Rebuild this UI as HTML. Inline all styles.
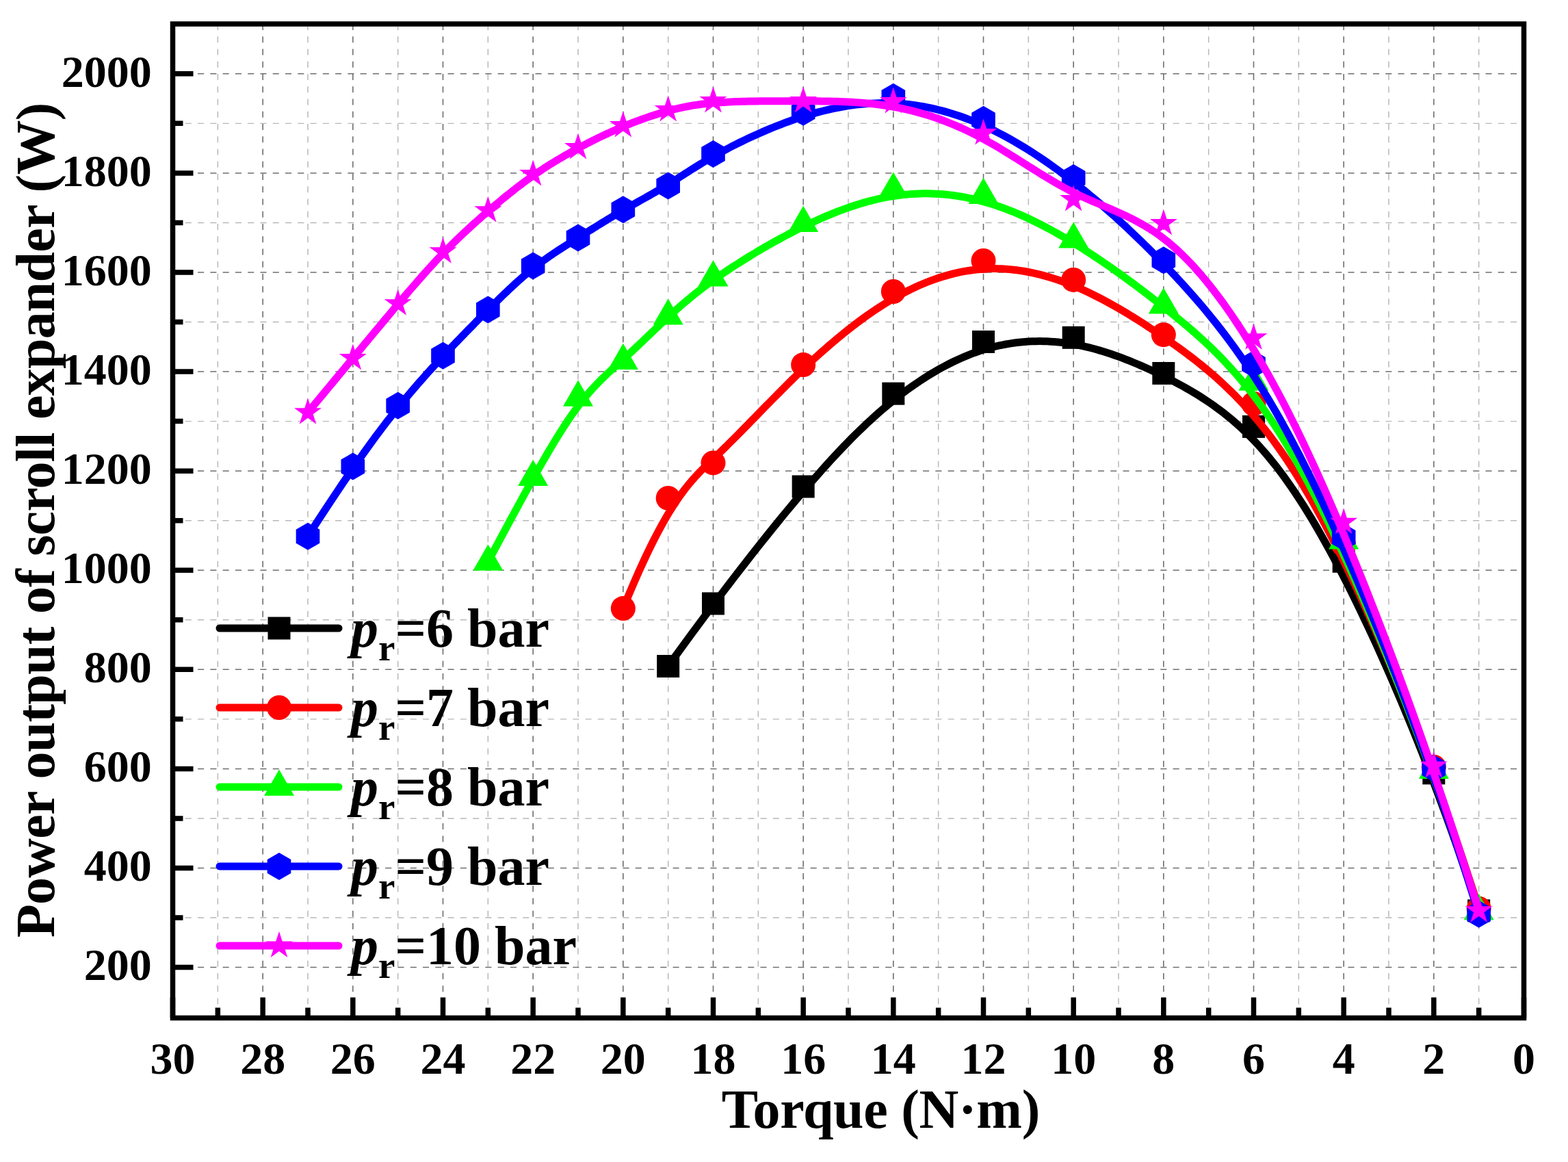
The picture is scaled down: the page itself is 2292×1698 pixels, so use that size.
<!DOCTYPE html>
<html><head><meta charset="utf-8"><title>Power output vs torque</title>
<style>html,body{margin:0;padding:0;background:#fff;}svg{display:block;}</style>
</head><body>
<svg width="2292" height="1698" viewBox="0 0 2292 1698">
<rect width="2292" height="1698" fill="#fff"/>
<path d="M2161.67 35.0V1487.5M2030 35.0V1487.5M1898.33 35.0V1487.5M1766.67 35.0V1487.5M1635 35.0V1487.5M1503.33 35.0V1487.5M1371.67 35.0V1487.5M1240 35.0V1487.5M1108.33 35.0V1487.5M976.67 35.0V1487.5M845 35.0V1487.5M713.33 35.0V1487.5M581.67 35.0V1487.5M450 35.0V1487.5M318.33 35.0V1487.5" stroke="#b8b8b8" stroke-width="1.5" stroke-dasharray="9.1 9.15" fill="none"/>
<path d="M252.5 1341.05H2227.5M252.5 1195.96H2227.5M252.5 1050.87H2227.5M252.5 905.78H2227.5M252.5 760.7H2227.5M252.5 615.61H2227.5M252.5 470.52H2227.5M252.5 325.43H2227.5M252.5 180.34H2227.5" stroke="#b8b8b8" stroke-width="1.4" stroke-dasharray="9.1 9.176" fill="none"/>
<path d="M2095.83 35.0V1487.5M1964.17 35.0V1487.5M1832.5 35.0V1487.5M1700.83 35.0V1487.5M1569.17 35.0V1487.5M1437.5 35.0V1487.5M1305.83 35.0V1487.5M1174.17 35.0V1487.5M1042.5 35.0V1487.5M910.83 35.0V1487.5M779.17 35.0V1487.5M647.5 35.0V1487.5M515.83 35.0V1487.5M384.17 35.0V1487.5" stroke="#6e6e6e" stroke-width="1.6" stroke-dasharray="9.1 9.15" fill="none"/>
<path d="M252.5 1413.59H2227.5M252.5 1268.5H2227.5M252.5 1123.42H2227.5M252.5 978.33H2227.5M252.5 833.24H2227.5M252.5 688.15H2227.5M252.5 543.06H2227.5M252.5 397.98H2227.5M252.5 252.89H2227.5M252.5 107.8H2227.5" stroke="#6e6e6e" stroke-width="1.5" stroke-dasharray="9.1 9.176" fill="none"/>
<path d="M976.67 973.5 L984.9 962.09 L993.12 950.76 L1001.33 939.5 L1009.53 928.32 L1017.71 917.22 L1025.87 906.22 L1034 895.32 L1042.09 884.52 L1050.15 873.84 L1058.16 863.27 L1066.13 852.83 L1074.05 842.51 L1081.9 832.34 L1089.7 822.3 L1097.43 812.42 L1105.08 802.68 L1112.66 793.11 L1120.16 783.71 L1127.58 774.47 L1134.9 765.42 L1142.13 756.55 L1149.26 747.87 L1156.28 739.39 L1163.19 731.12 L1170 723.05 L1176.69 715.18 L1183.27 707.52 L1189.76 700.05 L1196.15 692.78 L1202.45 685.69 L1208.67 678.79 L1214.8 672.06 L1220.86 665.51 L1226.85 659.13 L1232.77 652.92 L1238.63 646.87 L1244.43 640.97 L1250.18 635.23 L1255.88 629.63 L1261.54 624.18 L1267.16 618.87 L1272.75 613.69 L1278.3 608.64 L1283.84 603.72 L1289.35 598.92 L1294.85 594.24 L1300.35 589.68 L1305.83 585.22 L1311.32 580.86 L1316.81 576.61 L1322.29 572.47 L1327.78 568.43 L1333.26 564.5 L1338.75 560.68 L1344.24 556.97 L1349.72 553.36 L1355.21 549.87 L1360.69 546.48 L1366.18 543.21 L1371.67 540.05 L1377.15 537 L1382.64 534.07 L1388.13 531.24 L1393.61 528.54 L1399.1 525.94 L1404.58 523.47 L1410.07 521.11 L1415.56 518.87 L1421.04 516.74 L1426.53 514.74 L1432.01 512.85 L1437.5 511.08 L1442.99 509.44 L1448.47 507.91 L1453.96 506.5 L1459.44 505.22 L1464.93 504.04 L1470.42 502.99 L1475.9 502.05 L1481.39 501.23 L1486.88 500.52 L1492.36 499.92 L1497.85 499.44 L1503.33 499.06 L1508.82 498.8 L1514.31 498.65 L1519.79 498.61 L1525.28 498.68 L1530.76 498.85 L1536.25 499.14 L1541.74 499.53 L1547.22 500.02 L1552.71 500.62 L1558.19 501.32 L1563.68 502.13 L1569.17 503.03 L1574.65 504.04 L1580.14 505.15 L1585.62 506.35 L1591.11 507.65 L1596.6 509.04 L1602.08 510.52 L1607.57 512.09 L1613.06 513.74 L1618.54 515.48 L1624.03 517.29 L1629.51 519.18 L1635 521.15 L1640.49 523.19 L1645.97 525.3 L1651.46 527.48 L1656.94 529.73 L1662.43 532.04 L1667.92 534.41 L1673.4 536.84 L1678.89 539.32 L1684.38 541.86 L1689.86 544.45 L1695.35 547.1 L1700.83 549.78 L1706.32 552.52 L1711.81 555.3 L1717.29 558.15 L1722.78 561.05 L1728.26 564.03 L1733.75 567.09 L1739.24 570.24 L1744.72 573.47 L1750.21 576.8 L1755.69 580.24 L1761.18 583.79 L1766.67 587.46 L1772.15 591.26 L1777.64 595.19 L1783.12 599.26 L1788.61 603.47 L1794.1 607.83 L1799.58 612.36 L1805.07 617.05 L1810.56 621.91 L1816.04 626.96 L1821.53 632.19 L1827.01 637.61 L1832.5 643.23 L1837.99 649.06 L1843.48 655.11 L1848.98 661.39 L1854.5 667.9 L1860.03 674.66 L1865.59 681.69 L1871.18 688.98 L1876.8 696.56 L1882.45 704.43 L1888.15 712.6 L1893.9 721.09 L1899.7 729.9 L1905.56 739.05 L1911.48 748.54 L1917.47 758.39 L1923.53 768.6 L1929.66 779.2 L1935.88 790.18 L1942.18 801.57 L1948.57 813.36 L1955.06 825.58 L1961.65 838.22 L1968.34 851.31 L1975.14 864.86 L1982.05 878.86 L1989.08 893.34 L1996.2 908.27 L2003.43 923.68 L2010.76 939.55 L2018.17 955.88 L2025.67 972.69 L2033.25 989.97 L2040.91 1007.71 L2048.64 1025.93 L2056.43 1044.62 L2064.29 1063.78 L2072.2 1083.41 L2080.17 1103.52 L2088.18 1124.1 L2096.24 1145.15 L2104.33 1166.69 L2112.46 1188.7 L2120.62 1211.18 L2128.8 1234.15 L2137 1257.59 L2145.21 1281.51 L2153.44 1305.92 L2161.67 1330.8" stroke="#000000" stroke-width="11" fill="none" stroke-linejoin="round" stroke-linecap="round"/>
<rect x="960.17" y="957" width="33" height="33" fill="#000000"/>
<rect x="1026" y="865.5" width="33" height="33" fill="#000000"/>
<rect x="1157.67" y="694.5" width="33" height="33" fill="#000000"/>
<rect x="1289.33" y="558.7" width="33" height="33" fill="#000000"/>
<rect x="1421" y="483" width="33" height="33" fill="#000000"/>
<rect x="1552.67" y="476.8" width="33" height="33" fill="#000000"/>
<rect x="1684.33" y="529" width="33" height="33" fill="#000000"/>
<rect x="1816" y="606.9" width="33" height="33" fill="#000000"/>
<rect x="1947.67" y="803.8" width="33" height="33" fill="#000000"/>
<rect x="2079.33" y="1113.3" width="33" height="33" fill="#000000"/>
<rect x="2145.17" y="1314.3" width="33" height="33" fill="#000000"/>
<path d="M910.83 889.1 L918.89 869.64 L926.63 851.54 L934.05 834.71 L941.18 819.11 L948.04 804.66 L954.64 791.31 L960.99 778.98 L967.12 767.63 L973.03 757.17 L978.76 747.55 L984.31 738.71 L989.7 730.58 L994.94 723.1 L1000.06 716.2 L1005.07 709.82 L1009.99 703.9 L1014.83 698.38 L1019.61 693.18 L1024.35 688.26 L1029.06 683.53 L1033.77 678.95 L1038.48 674.44 L1043.21 669.94 L1047.99 665.39 L1052.81 660.74 L1057.7 655.98 L1062.63 651.12 L1067.62 646.17 L1072.65 641.14 L1077.73 636.03 L1082.85 630.84 L1088.01 625.6 L1093.21 620.29 L1098.45 614.94 L1103.72 609.55 L1109.02 604.13 L1114.35 598.68 L1119.7 593.21 L1125.08 587.73 L1130.48 582.25 L1135.9 576.77 L1141.34 571.3 L1146.79 565.85 L1152.25 560.42 L1157.72 555.03 L1163.2 549.68 L1168.68 544.38 L1174.17 539.13 L1179.65 533.95 L1185.14 528.83 L1190.62 523.77 L1196.11 518.79 L1201.6 513.87 L1207.08 509.03 L1212.57 504.26 L1218.06 499.57 L1223.54 494.96 L1229.03 490.42 L1234.51 485.97 L1240 481.6 L1245.49 477.31 L1250.97 473.11 L1256.46 469 L1261.94 464.99 L1267.43 461.06 L1272.92 457.23 L1278.4 453.49 L1283.89 449.86 L1289.37 446.32 L1294.86 442.89 L1300.35 439.56 L1305.83 436.33 L1311.32 433.22 L1316.81 430.21 L1322.29 427.31 L1327.78 424.52 L1333.26 421.84 L1338.75 419.27 L1344.24 416.82 L1349.72 414.48 L1355.21 412.25 L1360.69 410.14 L1366.18 408.14 L1371.67 406.26 L1377.15 404.5 L1382.64 402.86 L1388.13 401.33 L1393.61 399.93 L1399.1 398.64 L1404.58 397.48 L1410.07 396.43 L1415.56 395.52 L1421.04 394.72 L1426.53 394.05 L1432.01 393.5 L1437.5 393.08 L1442.99 392.79 L1448.47 392.62 L1453.96 392.58 L1459.44 392.66 L1464.93 392.86 L1470.42 393.18 L1475.9 393.61 L1481.39 394.17 L1486.88 394.83 L1492.36 395.62 L1497.85 396.51 L1503.33 397.51 L1508.82 398.63 L1514.31 399.84 L1519.79 401.17 L1525.28 402.6 L1530.76 404.13 L1536.25 405.77 L1541.74 407.5 L1547.22 409.33 L1552.71 411.26 L1558.19 413.29 L1563.68 415.41 L1569.17 417.62 L1574.65 419.92 L1580.14 422.31 L1585.62 424.78 L1591.11 427.34 L1596.6 429.98 L1602.08 432.71 L1607.57 435.5 L1613.06 438.38 L1618.54 441.32 L1624.03 444.34 L1629.51 447.42 L1635 450.57 L1640.49 453.78 L1645.97 457.05 L1651.46 460.38 L1656.94 463.77 L1662.43 467.21 L1667.92 470.7 L1673.4 474.24 L1678.89 477.83 L1684.38 481.47 L1689.86 485.15 L1695.35 488.86 L1700.83 492.62 L1706.32 496.41 L1711.81 500.24 L1717.29 504.12 L1722.78 508.06 L1728.26 512.05 L1733.75 516.12 L1739.24 520.25 L1744.72 524.46 L1750.21 528.76 L1755.69 533.15 L1761.18 537.63 L1766.67 542.22 L1772.15 546.92 L1777.64 551.73 L1783.12 556.66 L1788.61 561.72 L1794.1 566.92 L1799.58 572.25 L1805.07 577.73 L1810.56 583.36 L1816.04 589.15 L1821.53 595.11 L1827.01 601.23 L1832.5 607.53 L1837.99 614.02 L1843.48 620.7 L1848.98 627.59 L1854.5 634.7 L1860.03 642.04 L1865.59 649.63 L1871.18 657.48 L1876.8 665.6 L1882.45 674 L1888.15 682.7 L1893.9 691.71 L1899.7 701.05 L1905.56 710.72 L1911.48 720.73 L1917.47 731.11 L1923.53 741.86 L1929.66 753 L1935.88 764.54 L1942.18 776.48 L1948.57 788.86 L1955.06 801.66 L1961.65 814.92 L1968.34 828.64 L1975.14 842.84 L1982.05 857.52 L1989.08 872.69 L1996.2 888.35 L2003.43 904.49 L2010.76 921.11 L2018.17 938.22 L2025.67 955.81 L2033.25 973.88 L2040.91 992.43 L2048.64 1011.47 L2056.43 1030.97 L2064.29 1050.96 L2072.2 1071.42 L2080.17 1092.36 L2088.18 1113.78 L2096.24 1135.66 L2104.33 1158.02 L2112.46 1180.86 L2120.62 1204.16 L2128.8 1227.93 L2137 1252.17 L2145.21 1276.88 L2153.44 1302.06 L2161.67 1327.7" stroke="#ff0000" stroke-width="11" fill="none" stroke-linejoin="round" stroke-linecap="round"/>
<circle cx="910.83" cy="889.1" r="18.0" fill="#ff0000"/>
<circle cx="976.67" cy="727.9" r="18.0" fill="#ff0000"/>
<circle cx="1042.5" cy="676.4" r="18.0" fill="#ff0000"/>
<circle cx="1174.17" cy="533.1" r="18.0" fill="#ff0000"/>
<circle cx="1305.83" cy="426" r="18.0" fill="#ff0000"/>
<circle cx="1437.5" cy="380.9" r="18.0" fill="#ff0000"/>
<circle cx="1569.17" cy="408.9" r="18.0" fill="#ff0000"/>
<circle cx="1700.83" cy="489.2" r="18.0" fill="#ff0000"/>
<circle cx="1832.5" cy="590" r="18.0" fill="#ff0000"/>
<circle cx="1964.17" cy="796" r="18.0" fill="#ff0000"/>
<circle cx="2095.83" cy="1120.7" r="18.0" fill="#ff0000"/>
<circle cx="2161.67" cy="1327.7" r="18.0" fill="#ff0000"/>
<path d="M713.33 821 L721.39 805.86 L729.12 791.39 L736.53 777.57 L743.63 764.36 L750.44 751.77 L756.97 739.76 L763.22 728.31 L769.21 717.41 L774.96 707.04 L780.47 697.17 L785.75 687.79 L790.82 678.87 L795.7 670.4 L800.38 662.36 L804.89 654.73 L809.24 647.48 L813.43 640.61 L817.48 634.07 L821.41 627.87 L825.21 621.98 L828.92 616.37 L832.53 611.03 L836.05 605.94 L839.51 601.08 L842.91 596.43 L846.26 591.98 L849.55 587.73 L852.8 583.65 L855.99 579.74 L859.14 575.99 L862.25 572.4 L865.32 568.95 L868.35 565.63 L871.34 562.43 L874.3 559.35 L877.23 556.37 L880.13 553.48 L883.01 550.69 L885.86 547.96 L888.69 545.3 L891.5 542.7 L894.29 540.15 L897.07 537.63 L899.84 535.14 L902.59 532.67 L905.34 530.21 L908.09 527.74 L910.83 525.27 L913.58 522.77 L916.32 520.26 L919.06 517.73 L921.81 515.19 L924.55 512.63 L927.29 510.06 L930.03 507.48 L932.78 504.88 L935.52 502.28 L938.26 499.68 L941.01 497.07 L943.75 494.45 L946.49 491.84 L949.24 489.22 L951.98 486.6 L954.72 483.99 L957.47 481.38 L960.21 478.77 L962.95 476.18 L965.69 473.59 L968.44 471.01 L971.18 468.44 L973.92 465.89 L976.67 463.35 L979.41 460.83 L982.16 458.32 L984.92 455.82 L987.69 453.33 L990.48 450.85 L993.3 448.37 L996.14 445.89 L999.02 443.41 L1001.93 440.94 L1004.89 438.45 L1007.9 435.96 L1010.95 433.46 L1014.07 430.94 L1017.25 428.41 L1020.49 425.87 L1023.81 423.3 L1027.2 420.71 L1030.67 418.1 L1034.23 415.47 L1037.88 412.8 L1041.62 410.1 L1045.47 407.37 L1049.41 404.61 L1053.47 401.8 L1057.64 398.96 L1061.92 396.07 L1066.31 393.16 L1070.79 390.22 L1075.37 387.25 L1080.05 384.26 L1084.8 381.25 L1089.64 378.23 L1094.55 375.2 L1099.54 372.16 L1104.59 369.13 L1109.7 366.09 L1114.88 363.06 L1120.1 360.04 L1125.37 357.04 L1130.68 354.05 L1136.04 351.08 L1141.42 348.14 L1146.84 345.22 L1152.27 342.34 L1157.73 339.5 L1163.2 336.7 L1168.68 333.94 L1174.17 331.23 L1179.65 328.58 L1185.14 325.97 L1190.62 323.43 L1196.11 320.94 L1201.6 318.51 L1207.08 316.15 L1212.57 313.85 L1218.06 311.61 L1223.54 309.45 L1229.03 307.35 L1234.51 305.33 L1240 303.38 L1245.49 301.51 L1250.97 299.71 L1256.46 298 L1261.94 296.36 L1267.43 294.82 L1272.92 293.35 L1278.4 291.98 L1283.89 290.7 L1289.37 289.5 L1294.86 288.41 L1300.35 287.4 L1305.83 286.5 L1311.32 285.7 L1316.81 284.99 L1322.29 284.39 L1327.78 283.88 L1333.26 283.48 L1338.75 283.17 L1344.24 282.97 L1349.72 282.86 L1355.21 282.85 L1360.69 282.94 L1366.18 283.13 L1371.67 283.42 L1377.15 283.81 L1382.64 284.3 L1388.13 284.88 L1393.61 285.57 L1399.1 286.35 L1404.58 287.23 L1410.07 288.21 L1415.56 289.29 L1421.04 290.47 L1426.53 291.74 L1432.01 293.11 L1437.5 294.58 L1442.99 296.15 L1448.47 297.81 L1453.96 299.57 L1459.44 301.42 L1464.93 303.36 L1470.42 305.39 L1475.9 307.51 L1481.39 309.71 L1486.88 311.99 L1492.36 314.36 L1497.85 316.8 L1503.33 319.33 L1508.82 321.93 L1514.31 324.6 L1519.79 327.35 L1525.28 330.16 L1530.76 333.05 L1536.25 336 L1541.74 339.02 L1547.22 342.11 L1552.71 345.25 L1558.19 348.45 L1563.68 351.72 L1569.17 355.03 L1574.65 358.41 L1580.14 361.83 L1585.62 365.31 L1591.11 368.84 L1596.6 372.42 L1602.08 376.05 L1607.57 379.73 L1613.06 383.45 L1618.54 387.22 L1624.03 391.03 L1629.51 394.89 L1635 398.79 L1640.49 402.73 L1645.97 406.71 L1651.46 410.74 L1656.94 414.79 L1662.43 418.89 L1667.92 423.02 L1673.4 427.19 L1678.89 431.39 L1684.38 435.62 L1689.86 439.88 L1695.35 444.18 L1700.83 448.5 L1706.32 452.85 L1711.81 457.24 L1717.29 461.67 L1722.78 466.15 L1728.26 470.7 L1733.75 475.3 L1739.24 479.98 L1744.72 484.74 L1750.21 489.59 L1755.69 494.53 L1761.18 499.57 L1766.67 504.73 L1772.15 510.01 L1777.64 515.41 L1783.12 520.94 L1788.61 526.61 L1794.1 532.43 L1799.58 538.41 L1805.07 544.55 L1810.56 550.86 L1816.04 557.35 L1821.53 564.02 L1827.01 570.88 L1832.5 577.95 L1837.99 585.22 L1843.48 592.72 L1848.98 600.44 L1854.5 608.4 L1860.03 616.62 L1865.59 625.1 L1871.18 633.85 L1876.8 642.89 L1882.45 652.22 L1888.15 661.85 L1893.9 671.81 L1899.7 682.09 L1905.56 692.72 L1911.48 703.69 L1917.47 715.02 L1923.53 726.73 L1929.66 738.82 L1935.88 751.31 L1942.18 764.19 L1948.57 777.5 L1955.06 791.23 L1961.65 805.4 L1968.34 820.02 L1975.14 835.1 L1982.05 850.65 L1989.08 866.66 L1996.2 883.14 L2003.43 900.09 L2010.76 917.49 L2018.17 935.35 L2025.67 953.66 L2033.25 972.42 L2040.91 991.63 L2048.64 1011.28 L2056.43 1031.38 L2064.29 1051.91 L2072.2 1072.88 L2080.17 1094.29 L2088.18 1116.12 L2096.24 1138.38 L2104.33 1161.07 L2112.46 1184.17 L2120.62 1207.7 L2128.8 1231.64 L2137 1255.99 L2145.21 1280.76 L2153.44 1305.93 L2161.67 1331.5" stroke="#00ff00" stroke-width="11" fill="none" stroke-linejoin="round" stroke-linecap="round"/>
<polygon points="713.33,795.6 735.33,833.7 691.33,833.7" fill="#00ff00"/>
<polygon points="779.17,671.8 801.17,709.9 757.17,709.9" fill="#00ff00"/>
<polygon points="845,555.6 867,593.7 823,593.7" fill="#00ff00"/>
<polygon points="910.83,501.8 932.83,539.9 888.83,539.9" fill="#00ff00"/>
<polygon points="976.67,436.4 998.67,474.5 954.67,474.5" fill="#00ff00"/>
<polygon points="1042.5,380.3 1064.5,418.4 1020.5,418.4" fill="#00ff00"/>
<polygon points="1174.17,300.8 1196.17,338.9 1152.17,338.9" fill="#00ff00"/>
<polygon points="1305.83,251.5 1327.83,289.6 1283.83,289.6" fill="#00ff00"/>
<polygon points="1437.5,259.8 1459.5,297.9 1415.5,297.9" fill="#00ff00"/>
<polygon points="1569.17,324.4 1591.17,362.5 1547.17,362.5" fill="#00ff00"/>
<polygon points="1700.83,420.4 1722.83,458.5 1678.83,458.5" fill="#00ff00"/>
<polygon points="1832.5,532.6 1854.5,570.7 1810.5,570.7" fill="#00ff00"/>
<polygon points="1964.17,764.5 1986.17,802.6 1942.17,802.6" fill="#00ff00"/>
<polygon points="2095.83,1099.9 2117.83,1138 2073.83,1138" fill="#00ff00"/>
<polygon points="2161.67,1306.1 2183.67,1344.2 2139.67,1344.2" fill="#00ff00"/>
<path d="M450 783.7 L458.06 771.23 L465.79 759.35 L473.2 748.02 L480.3 737.23 L487.11 726.96 L493.63 717.19 L499.88 707.89 L505.88 699.05 L511.62 690.65 L517.13 682.66 L522.42 675.06 L527.49 667.84 L532.37 660.97 L537.05 654.43 L541.56 648.2 L545.91 642.27 L550.1 636.6 L554.15 631.18 L558.07 625.99 L561.88 621.01 L565.58 616.22 L569.19 611.59 L572.72 607.11 L576.18 602.76 L579.58 598.51 L582.93 594.36 L586.22 590.32 L589.46 586.36 L592.66 582.49 L595.81 578.71 L598.92 575.01 L601.99 571.38 L605.01 567.83 L608.01 564.35 L610.97 560.93 L613.9 557.58 L616.8 554.28 L619.67 551.03 L622.52 547.84 L625.35 544.69 L628.16 541.58 L630.96 538.51 L633.74 535.47 L636.5 532.46 L639.26 529.48 L642.01 526.52 L644.76 523.58 L647.5 520.65 L650.24 517.73 L652.99 514.82 L655.73 511.93 L658.47 509.04 L661.22 506.16 L663.96 503.28 L666.7 500.42 L669.44 497.57 L672.19 494.72 L674.93 491.89 L677.67 489.06 L680.42 486.24 L683.16 483.43 L685.9 480.62 L688.65 477.83 L691.39 475.04 L694.13 472.25 L696.87 469.48 L699.62 466.71 L702.36 463.95 L705.1 461.19 L707.85 458.45 L710.59 455.7 L713.33 452.97 L716.08 450.24 L718.82 447.51 L721.56 444.8 L724.31 442.1 L727.05 439.4 L729.79 436.72 L732.53 434.06 L735.28 431.41 L738.02 428.78 L740.76 426.16 L743.51 423.57 L746.25 421 L748.99 418.45 L751.74 415.92 L754.48 413.42 L757.22 410.95 L759.97 408.51 L762.71 406.09 L765.45 403.71 L768.19 401.36 L770.94 399.05 L773.68 396.77 L776.42 394.52 L779.17 392.32 L781.91 390.15 L784.65 388.02 L787.4 385.93 L790.14 383.88 L792.88 381.85 L795.62 379.86 L798.37 377.9 L801.11 375.96 L803.85 374.05 L806.6 372.17 L809.34 370.31 L812.08 368.47 L814.83 366.65 L817.57 364.85 L820.31 363.06 L823.06 361.29 L825.8 359.54 L828.54 357.79 L831.28 356.05 L834.03 354.32 L836.77 352.6 L839.51 350.88 L842.26 349.16 L845 347.45 L847.74 345.74 L850.49 344.02 L853.23 342.31 L855.97 340.59 L858.72 338.88 L861.46 337.17 L864.2 335.46 L866.94 333.76 L869.69 332.06 L872.43 330.36 L875.17 328.67 L877.92 326.98 L880.66 325.3 L883.4 323.62 L886.15 321.95 L888.89 320.29 L891.63 318.63 L894.38 316.98 L897.12 315.34 L899.86 313.71 L902.6 312.09 L905.35 310.48 L908.09 308.87 L910.83 307.28 L913.58 305.7 L916.32 304.13 L919.06 302.57 L921.81 301.02 L924.55 299.47 L927.29 297.93 L930.03 296.39 L932.78 294.85 L935.52 293.31 L938.26 291.78 L941.01 290.24 L943.75 288.7 L946.49 287.15 L949.24 285.6 L951.98 284.04 L954.72 282.47 L957.47 280.9 L960.21 279.31 L962.95 277.71 L965.69 276.1 L968.44 274.47 L971.18 272.82 L973.92 271.16 L976.67 269.48 L979.41 267.78 L982.16 266.06 L984.92 264.32 L987.69 262.56 L990.48 260.78 L993.3 258.98 L996.14 257.15 L999.02 255.31 L1001.93 253.44 L1004.89 251.55 L1007.9 249.63 L1010.95 247.7 L1014.07 245.74 L1017.25 243.75 L1020.49 241.75 L1023.81 239.72 L1027.2 237.66 L1030.67 235.58 L1034.23 233.48 L1037.88 231.35 L1041.62 229.2 L1045.47 227.02 L1049.41 224.81 L1053.47 222.58 L1057.64 220.33 L1061.92 218.05 L1066.31 215.75 L1070.79 213.44 L1075.37 211.12 L1080.05 208.79 L1084.8 206.46 L1089.64 204.13 L1094.55 201.81 L1099.54 199.49 L1104.59 197.19 L1109.7 194.91 L1114.88 192.64 L1120.1 190.4 L1125.37 188.2 L1130.68 186.02 L1136.04 183.88 L1141.42 181.78 L1146.84 179.73 L1152.27 177.72 L1157.73 175.77 L1163.2 173.87 L1168.68 172.04 L1174.17 170.27 L1179.65 168.56 L1185.14 166.93 L1190.62 165.37 L1196.11 163.88 L1201.6 162.46 L1207.08 161.11 L1212.57 159.84 L1218.06 158.65 L1223.54 157.54 L1229.03 156.5 L1234.51 155.54 L1240 154.67 L1245.49 153.88 L1250.97 153.16 L1256.46 152.54 L1261.94 152 L1267.43 151.54 L1272.92 151.18 L1278.4 150.9 L1283.89 150.71 L1289.37 150.61 L1294.86 150.61 L1300.35 150.7 L1305.83 150.88 L1311.32 151.16 L1316.81 151.54 L1322.29 152.01 L1327.78 152.57 L1333.26 153.23 L1338.75 153.98 L1344.24 154.83 L1349.72 155.78 L1355.21 156.81 L1360.69 157.94 L1366.18 159.16 L1371.67 160.48 L1377.15 161.89 L1382.64 163.39 L1388.13 164.99 L1393.61 166.67 L1399.1 168.45 L1404.58 170.32 L1410.07 172.29 L1415.56 174.34 L1421.04 176.49 L1426.53 178.72 L1432.01 181.05 L1437.5 183.47 L1442.99 185.97 L1448.47 188.57 L1453.96 191.25 L1459.44 194.03 L1464.93 196.88 L1470.42 199.82 L1475.9 202.85 L1481.39 205.95 L1486.88 209.14 L1492.36 212.4 L1497.85 215.75 L1503.33 219.17 L1508.82 222.67 L1514.31 226.24 L1519.79 229.88 L1525.28 233.6 L1530.76 237.39 L1536.25 241.24 L1541.74 245.17 L1547.22 249.16 L1552.71 253.22 L1558.19 257.35 L1563.68 261.53 L1569.17 265.78 L1574.65 270.1 L1580.14 274.47 L1585.62 278.9 L1591.11 283.4 L1596.6 287.95 L1602.08 292.56 L1607.57 297.24 L1613.06 301.97 L1618.54 306.76 L1624.03 311.61 L1629.51 316.52 L1635 321.49 L1640.49 326.51 L1645.97 331.59 L1651.46 336.73 L1656.94 341.93 L1662.43 347.18 L1667.92 352.49 L1673.4 357.86 L1678.89 363.28 L1684.38 368.76 L1689.86 374.29 L1695.35 379.88 L1700.83 385.52 L1706.32 391.21 L1711.81 396.97 L1717.29 402.79 L1722.78 408.68 L1728.26 414.65 L1733.75 420.69 L1739.24 426.82 L1744.72 433.04 L1750.21 439.35 L1755.69 445.77 L1761.18 452.28 L1766.67 458.91 L1772.15 465.66 L1777.64 472.52 L1783.12 479.51 L1788.61 486.63 L1794.1 493.88 L1799.58 501.28 L1805.07 508.82 L1810.56 516.51 L1816.04 524.36 L1821.53 532.37 L1827.01 540.54 L1832.5 548.88 L1837.99 557.4 L1843.48 566.11 L1848.98 575.02 L1854.5 584.13 L1860.03 593.47 L1865.59 603.03 L1871.18 612.84 L1876.8 622.9 L1882.45 633.23 L1888.15 643.83 L1893.9 654.72 L1899.7 665.9 L1905.56 677.4 L1911.48 689.21 L1917.47 701.35 L1923.53 713.84 L1929.66 726.67 L1935.88 739.87 L1942.18 753.45 L1948.57 767.41 L1955.06 781.77 L1961.65 796.53 L1968.34 811.72 L1975.14 827.33 L1982.05 843.39 L1989.08 859.88 L1996.2 876.82 L2003.43 894.2 L2010.76 912.02 L2018.17 930.29 L2025.67 949 L2033.25 968.16 L2040.91 987.76 L2048.64 1007.81 L2056.43 1028.31 L2064.29 1049.25 L2072.2 1070.65 L2080.17 1092.49 L2088.18 1114.78 L2096.24 1137.52 L2104.33 1160.71 L2112.46 1184.35 L2120.62 1208.44 L2128.8 1232.99 L2137 1257.98 L2145.21 1283.43 L2153.44 1309.34 L2161.67 1335.7" stroke="#0000ff" stroke-width="11" fill="none" stroke-linejoin="round" stroke-linecap="round"/>
<polygon points="450,763.7 467.32,773.7 467.32,793.7 450,803.7 432.68,793.7 432.68,773.7" fill="#0000ff"/>
<polygon points="515.83,661.6 533.15,671.6 533.15,691.6 515.83,701.6 498.51,691.6 498.51,671.6" fill="#0000ff"/>
<polygon points="581.67,572.7 598.99,582.7 598.99,602.7 581.67,612.7 564.35,602.7 564.35,582.7" fill="#0000ff"/>
<polygon points="647.5,499.7 664.82,509.7 664.82,529.7 647.5,539.7 630.18,529.7 630.18,509.7" fill="#0000ff"/>
<polygon points="713.33,432.4 730.65,442.4 730.65,462.4 713.33,472.4 696.01,462.4 696.01,442.4" fill="#0000ff"/>
<polygon points="779.17,368.5 796.49,378.5 796.49,398.5 779.17,408.5 761.85,398.5 761.85,378.5" fill="#0000ff"/>
<polygon points="845,327.5 862.32,337.5 862.32,357.5 845,367.5 827.68,357.5 827.68,337.5" fill="#0000ff"/>
<polygon points="910.83,286.2 928.15,296.2 928.15,316.2 910.83,326.2 893.51,316.2 893.51,296.2" fill="#0000ff"/>
<polygon points="976.67,251.4 993.99,261.4 993.99,281.4 976.67,291.4 959.35,281.4 959.35,261.4" fill="#0000ff"/>
<polygon points="1042.5,205.1 1059.82,215.1 1059.82,235.1 1042.5,245.1 1025.18,235.1 1025.18,215.1" fill="#0000ff"/>
<polygon points="1174.17,143.7 1191.49,153.7 1191.49,173.7 1174.17,183.7 1156.85,173.7 1156.85,153.7" fill="#0000ff"/>
<polygon points="1305.83,121.7 1323.15,131.7 1323.15,151.7 1305.83,161.7 1288.51,151.7 1288.51,131.7" fill="#0000ff"/>
<polygon points="1437.5,154.8 1454.82,164.8 1454.82,184.8 1437.5,194.8 1420.18,184.8 1420.18,164.8" fill="#0000ff"/>
<polygon points="1569.17,239.9 1586.49,249.9 1586.49,269.9 1569.17,279.9 1551.85,269.9 1551.85,249.9" fill="#0000ff"/>
<polygon points="1700.83,360.3 1718.15,370.3 1718.15,390.3 1700.83,400.3 1683.51,390.3 1683.51,370.3" fill="#0000ff"/>
<polygon points="1832.5,512 1849.82,522 1849.82,542 1832.5,552 1815.18,542 1815.18,522" fill="#0000ff"/>
<polygon points="1964.17,765 1981.49,775 1981.49,795 1964.17,805 1946.85,795 1946.85,775" fill="#0000ff"/>
<polygon points="2095.83,1103 2113.15,1113 2113.15,1133 2095.83,1143 2078.51,1133 2078.51,1113" fill="#0000ff"/>
<polygon points="2161.67,1315.7 2178.99,1325.7 2178.99,1345.7 2161.67,1355.7 2144.35,1345.7 2144.35,1325.7" fill="#0000ff"/>
<path d="M450 602.8 L458.06 593.1 L465.79 583.8 L473.2 574.88 L480.3 566.33 L487.11 558.13 L493.63 550.27 L499.88 542.74 L505.88 535.51 L511.62 528.59 L517.13 521.95 L522.42 515.58 L527.49 509.47 L532.37 503.6 L537.05 497.96 L541.56 492.54 L545.91 487.31 L550.1 482.28 L554.15 477.41 L558.07 472.71 L561.88 468.15 L565.58 463.72 L569.19 459.41 L572.72 455.2 L576.18 451.08 L579.58 447.04 L582.93 443.08 L586.22 439.18 L589.46 435.36 L592.66 431.6 L595.81 427.91 L598.92 424.29 L601.99 420.72 L605.01 417.22 L608.01 413.77 L610.97 410.38 L613.9 407.04 L616.8 403.76 L619.67 400.52 L622.52 397.33 L625.35 394.19 L628.16 391.09 L630.96 388.03 L633.74 385.01 L636.5 382.03 L639.26 379.09 L642.01 376.18 L644.76 373.3 L647.5 370.45 L650.24 367.63 L652.99 364.83 L655.73 362.07 L658.47 359.32 L661.22 356.6 L663.96 353.91 L666.7 351.24 L669.44 348.59 L672.19 345.97 L674.93 343.37 L677.67 340.78 L680.42 338.22 L683.16 335.68 L685.9 333.16 L688.65 330.65 L691.39 328.17 L694.13 325.7 L696.87 323.24 L699.62 320.81 L702.36 318.38 L705.1 315.98 L707.85 313.58 L710.59 311.2 L713.33 308.83 L716.08 306.48 L718.82 304.13 L721.56 301.8 L724.31 299.48 L727.05 297.18 L729.79 294.89 L732.53 292.62 L735.28 290.36 L738.02 288.12 L740.76 285.89 L743.51 283.68 L746.25 281.49 L748.99 279.32 L751.74 277.17 L754.48 275.03 L757.22 272.92 L759.97 270.83 L762.71 268.76 L765.45 266.71 L768.19 264.68 L770.94 262.67 L773.68 260.69 L776.42 258.73 L779.17 256.8 L781.91 254.89 L784.65 253.01 L787.4 251.15 L790.14 249.31 L792.88 247.5 L795.62 245.71 L798.37 243.94 L801.11 242.19 L803.85 240.46 L806.6 238.75 L809.34 237.06 L812.08 235.39 L814.83 233.74 L817.57 232.11 L820.31 230.49 L823.06 228.9 L825.8 227.31 L828.54 225.75 L831.28 224.2 L834.03 222.66 L836.77 221.14 L839.51 219.63 L842.26 218.13 L845 216.65 L847.74 215.18 L850.49 213.72 L853.23 212.27 L855.97 210.84 L858.72 209.42 L861.46 208.01 L864.2 206.61 L866.94 205.23 L869.69 203.86 L872.43 202.5 L875.17 201.16 L877.92 199.83 L880.66 198.51 L883.4 197.21 L886.15 195.92 L888.89 194.65 L891.63 193.39 L894.38 192.14 L897.12 190.91 L899.86 189.7 L902.6 188.5 L905.35 187.31 L908.09 186.14 L910.83 184.98 L913.58 183.84 L916.32 182.72 L919.06 181.61 L921.81 180.52 L924.55 179.44 L927.29 178.38 L930.03 177.33 L932.78 176.3 L935.52 175.29 L938.26 174.29 L941.01 173.31 L943.75 172.35 L946.49 171.4 L949.24 170.47 L951.98 169.56 L954.72 168.66 L957.47 167.78 L960.21 166.92 L962.95 166.07 L965.69 165.24 L968.44 164.43 L971.18 163.64 L973.92 162.86 L976.67 162.1 L979.41 161.36 L982.16 160.64 L984.92 159.93 L987.69 159.24 L990.48 158.58 L993.3 157.93 L996.14 157.3 L999.02 156.68 L1001.93 156.09 L1004.89 155.52 L1007.9 154.97 L1010.95 154.43 L1014.07 153.92 L1017.25 153.43 L1020.49 152.96 L1023.81 152.5 L1027.2 152.07 L1030.67 151.67 L1034.23 151.28 L1037.88 150.91 L1041.62 150.57 L1045.47 150.24 L1049.41 149.94 L1053.47 149.67 L1057.64 149.41 L1061.92 149.18 L1066.31 148.96 L1070.79 148.77 L1075.37 148.6 L1080.05 148.44 L1084.8 148.3 L1089.64 148.18 L1094.55 148.07 L1099.54 147.98 L1104.59 147.9 L1109.7 147.84 L1114.88 147.78 L1120.1 147.74 L1125.37 147.71 L1130.68 147.69 L1136.04 147.67 L1141.42 147.67 L1146.84 147.66 L1152.27 147.67 L1157.73 147.68 L1163.2 147.7 L1168.68 147.71 L1174.17 147.73 L1179.65 147.76 L1185.14 147.78 L1190.62 147.82 L1196.11 147.86 L1201.6 147.92 L1207.08 148 L1212.57 148.1 L1218.06 148.22 L1223.54 148.37 L1229.03 148.55 L1234.51 148.76 L1240 149.01 L1245.49 149.3 L1250.97 149.63 L1256.46 150.01 L1261.94 150.44 L1267.43 150.92 L1272.92 151.46 L1278.4 152.05 L1283.89 152.71 L1289.37 153.43 L1294.86 154.23 L1300.35 155.09 L1305.83 156.03 L1311.32 157.05 L1316.81 158.15 L1322.29 159.33 L1327.78 160.58 L1333.26 161.92 L1338.75 163.34 L1344.24 164.83 L1349.72 166.41 L1355.21 168.07 L1360.69 169.82 L1366.18 171.64 L1371.67 173.55 L1377.15 175.54 L1382.64 177.62 L1388.13 179.78 L1393.61 182.02 L1399.1 184.35 L1404.58 186.76 L1410.07 189.26 L1415.56 191.85 L1421.04 194.52 L1426.53 197.28 L1432.01 200.13 L1437.5 203.07 L1442.99 206.09 L1448.47 209.19 L1453.96 212.36 L1459.44 215.6 L1464.93 218.89 L1470.42 222.24 L1475.9 225.62 L1481.39 229.03 L1486.88 232.46 L1492.36 235.91 L1497.85 239.36 L1503.33 242.82 L1508.82 246.26 L1514.31 249.69 L1519.79 253.09 L1525.28 256.45 L1530.76 259.78 L1536.25 263.05 L1541.74 266.26 L1547.22 269.41 L1552.71 272.48 L1558.19 275.47 L1563.68 278.37 L1569.17 281.17 L1574.65 283.86 L1580.14 286.46 L1585.62 288.98 L1591.11 291.44 L1596.6 293.84 L1602.08 296.21 L1607.57 298.55 L1613.06 300.89 L1618.54 303.23 L1624.03 305.59 L1629.51 307.98 L1635 310.42 L1640.49 312.92 L1645.97 315.49 L1651.46 318.16 L1656.94 320.93 L1662.43 323.81 L1667.92 326.83 L1673.4 329.99 L1678.89 333.32 L1684.38 336.81 L1689.86 340.5 L1695.35 344.38 L1700.83 348.48 L1706.32 352.81 L1711.81 357.37 L1717.29 362.15 L1722.78 367.16 L1728.26 372.39 L1733.75 377.83 L1739.24 383.5 L1744.72 389.37 L1750.21 395.46 L1755.69 401.76 L1761.18 408.27 L1766.67 414.99 L1772.15 421.91 L1777.64 429.03 L1783.12 436.34 L1788.61 443.86 L1794.1 451.57 L1799.58 459.47 L1805.07 467.57 L1810.56 475.85 L1816.04 484.32 L1821.53 492.97 L1827.01 501.8 L1832.5 510.82 L1837.99 520.01 L1843.48 529.39 L1848.98 538.97 L1854.5 548.77 L1860.03 558.79 L1865.59 569.04 L1871.18 579.55 L1876.8 590.31 L1882.45 601.34 L1888.15 612.66 L1893.9 624.27 L1899.7 636.18 L1905.56 648.42 L1911.48 660.98 L1917.47 673.89 L1923.53 687.15 L1929.66 700.78 L1935.88 714.78 L1942.18 729.17 L1948.57 743.96 L1955.06 759.16 L1961.65 774.79 L1968.34 790.85 L1975.14 807.36 L1982.05 824.32 L1989.08 841.74 L1996.2 859.61 L2003.43 877.93 L2010.76 896.68 L2018.17 915.88 L2025.67 935.5 L2033.25 955.55 L2040.91 976.02 L2048.64 996.92 L2056.43 1018.22 L2064.29 1039.94 L2072.2 1062.06 L2080.17 1084.58 L2088.18 1107.49 L2096.24 1130.8 L2104.33 1154.5 L2112.46 1178.57 L2120.62 1203.03 L2128.8 1227.85 L2137 1253.05 L2145.21 1278.61 L2153.44 1304.53 L2161.67 1330.8" stroke="#ff00ff" stroke-width="11" fill="none" stroke-linejoin="round" stroke-linecap="round"/>
<polygon points="450,581.8 454.72,596.31 469.97,596.31 457.63,605.28 462.34,619.79 450,610.82 437.66,619.79 442.37,605.28 430.03,596.31 445.28,596.31" fill="#ff00ff"/>
<polygon points="515.83,502.6 520.55,517.11 535.81,517.11 523.46,526.08 528.18,540.59 515.83,531.62 503.49,540.59 508.2,526.08 495.86,517.11 511.12,517.11" fill="#ff00ff"/>
<polygon points="581.67,422.8 586.38,437.31 601.64,437.31 589.3,446.28 594.01,460.79 581.67,451.82 569.32,460.79 574.04,446.28 561.69,437.31 576.95,437.31" fill="#ff00ff"/>
<polygon points="647.5,346.8 652.22,361.31 667.47,361.31 655.13,370.28 659.84,384.79 647.5,375.82 635.16,384.79 639.87,370.28 627.53,361.31 642.78,361.31" fill="#ff00ff"/>
<polygon points="713.33,286.7 718.05,301.21 733.31,301.21 720.96,310.18 725.68,324.69 713.33,315.72 700.99,324.69 705.7,310.18 693.36,301.21 708.62,301.21" fill="#ff00ff"/>
<polygon points="779.17,233.4 783.88,247.91 799.14,247.91 786.8,256.88 791.51,271.39 779.17,262.42 766.82,271.39 771.54,256.88 759.19,247.91 774.45,247.91" fill="#ff00ff"/>
<polygon points="845,194.5 849.72,209.01 864.97,209.01 852.63,217.98 857.34,232.49 845,223.52 832.66,232.49 837.37,217.98 825.03,209.01 840.28,209.01" fill="#ff00ff"/>
<polygon points="910.83,162.5 915.55,177.01 930.81,177.01 918.46,185.98 923.18,200.49 910.83,191.52 898.49,200.49 903.2,185.98 890.86,177.01 906.12,177.01" fill="#ff00ff"/>
<polygon points="976.67,139.4 981.38,153.91 996.64,153.91 984.3,162.88 989.01,177.39 976.67,168.42 964.32,177.39 969.04,162.88 956.69,153.91 971.95,153.91" fill="#ff00ff"/>
<polygon points="1042.5,126.5 1047.22,141.01 1062.47,141.01 1050.13,149.98 1054.84,164.49 1042.5,155.52 1030.16,164.49 1034.87,149.98 1022.53,141.01 1037.78,141.01" fill="#ff00ff"/>
<polygon points="1174.17,126.6 1178.88,141.11 1194.14,141.11 1181.8,150.08 1186.51,164.59 1174.17,155.62 1161.82,164.59 1166.54,150.08 1154.19,141.11 1169.45,141.11" fill="#ff00ff"/>
<polygon points="1305.83,127.5 1310.55,142.01 1325.81,142.01 1313.46,150.98 1318.18,165.49 1305.83,156.52 1293.49,165.49 1298.2,150.98 1285.86,142.01 1301.12,142.01" fill="#ff00ff"/>
<polygon points="1437.5,173.6 1442.22,188.11 1457.47,188.11 1445.13,197.08 1449.84,211.59 1437.5,202.62 1425.16,211.59 1429.87,197.08 1417.53,188.11 1432.78,188.11" fill="#ff00ff"/>
<polygon points="1569.17,270.5 1573.88,285.01 1589.14,285.01 1576.8,293.98 1581.51,308.49 1569.17,299.52 1556.82,308.49 1561.54,293.98 1549.19,285.01 1564.45,285.01" fill="#ff00ff"/>
<polygon points="1700.83,305.4 1705.55,319.91 1720.81,319.91 1708.46,328.88 1713.18,343.39 1700.83,334.42 1688.49,343.39 1693.2,328.88 1680.86,319.91 1696.12,319.91" fill="#ff00ff"/>
<polygon points="1832.5,472.8 1837.22,487.31 1852.47,487.31 1840.13,496.28 1844.84,510.79 1832.5,501.82 1820.16,510.79 1824.87,496.28 1812.53,487.31 1827.78,487.31" fill="#ff00ff"/>
<polygon points="1964.17,742.3 1968.88,756.81 1984.14,756.81 1971.8,765.78 1976.51,780.29 1964.17,771.32 1951.82,780.29 1956.54,765.78 1944.19,756.81 1959.45,756.81" fill="#ff00ff"/>
<polygon points="2095.83,1098.2 2100.55,1112.71 2115.81,1112.71 2103.46,1121.68 2108.18,1136.19 2095.83,1127.22 2083.49,1136.19 2088.2,1121.68 2075.86,1112.71 2091.12,1112.71" fill="#ff00ff"/>
<polygon points="2161.67,1309.8 2166.38,1324.31 2181.64,1324.31 2169.3,1333.28 2174.01,1347.79 2161.67,1338.82 2149.32,1347.79 2154.04,1333.28 2141.69,1324.31 2156.95,1324.31" fill="#ff00ff"/>
<path d="M321 918H495" stroke="#000000" stroke-width="11" stroke-linecap="round"/>
<rect x="391.5" y="901.5" width="33" height="33" fill="#000000"/>
<text x="513" y="945" font-family="Liberation Serif, serif" font-weight="bold" font-size="80"><tspan font-style="italic">p</tspan><tspan font-size="55" dx="0" dy="20">r</tspan><tspan dy="-20">=6 bar</tspan></text>
<path d="M321 1034H495" stroke="#ff0000" stroke-width="11" stroke-linecap="round"/>
<circle cx="408" cy="1034" r="18.0" fill="#ff0000"/>
<text x="513" y="1061" font-family="Liberation Serif, serif" font-weight="bold" font-size="80"><tspan font-style="italic">p</tspan><tspan font-size="55" dx="0" dy="20">r</tspan><tspan dy="-20">=7 bar</tspan></text>
<path d="M321 1150H495" stroke="#00ff00" stroke-width="11" stroke-linecap="round"/>
<polygon points="408,1124.6 430,1162.7 386,1162.7" fill="#00ff00"/>
<text x="513" y="1177" font-family="Liberation Serif, serif" font-weight="bold" font-size="80"><tspan font-style="italic">p</tspan><tspan font-size="55" dx="0" dy="20">r</tspan><tspan dy="-20">=8 bar</tspan></text>
<path d="M321 1266H495" stroke="#0000ff" stroke-width="11" stroke-linecap="round"/>
<polygon points="408,1246 425.32,1256 425.32,1276 408,1286 390.68,1276 390.68,1256" fill="#0000ff"/>
<text x="513" y="1293" font-family="Liberation Serif, serif" font-weight="bold" font-size="80"><tspan font-style="italic">p</tspan><tspan font-size="55" dx="0" dy="20">r</tspan><tspan dy="-20">=9 bar</tspan></text>
<path d="M321 1382H495" stroke="#ff00ff" stroke-width="11" stroke-linecap="round"/>
<polygon points="408,1361 412.72,1375.51 427.97,1375.51 415.63,1384.48 420.34,1398.99 408,1390.02 395.66,1398.99 400.37,1384.48 388.03,1375.51 403.28,1375.51" fill="#ff00ff"/>
<text x="513" y="1409" font-family="Liberation Serif, serif" font-weight="bold" font-size="80"><tspan font-style="italic">p</tspan><tspan font-size="55" dx="0" dy="20">r</tspan><tspan dy="-20">=10 bar</tspan></text>
<rect x="252.5" y="35.0" width="1975.0" height="1452.5" fill="none" stroke="#000" stroke-width="7.5"/>
<path d="M2227.5 1487.5V1457.5M2161.67 1487.5V1472.5M2095.83 1487.5V1457.5M2030 1487.5V1472.5M1964.17 1487.5V1457.5M1898.33 1487.5V1472.5M1832.5 1487.5V1457.5M1766.67 1487.5V1472.5M1700.83 1487.5V1457.5M1635 1487.5V1472.5M1569.17 1487.5V1457.5M1503.33 1487.5V1472.5M1437.5 1487.5V1457.5M1371.67 1487.5V1472.5M1305.83 1487.5V1457.5M1240 1487.5V1472.5M1174.17 1487.5V1457.5M1108.33 1487.5V1472.5M1042.5 1487.5V1457.5M976.67 1487.5V1472.5M910.83 1487.5V1457.5M845 1487.5V1472.5M779.17 1487.5V1457.5M713.33 1487.5V1472.5M647.5 1487.5V1457.5M581.67 1487.5V1472.5M515.83 1487.5V1457.5M450 1487.5V1472.5M384.17 1487.5V1457.5M318.33 1487.5V1472.5M252.5 1487.5V1457.5M252.5 1413.59H282.5M252.5 1341.05H267.5M252.5 1268.5H282.5M252.5 1195.96H267.5M252.5 1123.42H282.5M252.5 1050.87H267.5M252.5 978.33H282.5M252.5 905.78H267.5M252.5 833.24H282.5M252.5 760.7H267.5M252.5 688.15H282.5M252.5 615.61H267.5M252.5 543.06H282.5M252.5 470.52H267.5M252.5 397.98H282.5M252.5 325.43H267.5M252.5 252.89H282.5M252.5 180.34H267.5M252.5 107.8H282.5" stroke="#000" stroke-width="7.5" fill="none"/>
<text x="2227.5" y="1568.8" text-anchor="middle" font-family="Liberation Serif, serif" font-weight="bold" font-size="66">0</text>
<text x="2095.83" y="1568.8" text-anchor="middle" font-family="Liberation Serif, serif" font-weight="bold" font-size="66">2</text>
<text x="1964.17" y="1568.8" text-anchor="middle" font-family="Liberation Serif, serif" font-weight="bold" font-size="66">4</text>
<text x="1832.5" y="1568.8" text-anchor="middle" font-family="Liberation Serif, serif" font-weight="bold" font-size="66">6</text>
<text x="1700.83" y="1568.8" text-anchor="middle" font-family="Liberation Serif, serif" font-weight="bold" font-size="66">8</text>
<text x="1569.17" y="1568.8" text-anchor="middle" font-family="Liberation Serif, serif" font-weight="bold" font-size="66">10</text>
<text x="1437.5" y="1568.8" text-anchor="middle" font-family="Liberation Serif, serif" font-weight="bold" font-size="66">12</text>
<text x="1305.83" y="1568.8" text-anchor="middle" font-family="Liberation Serif, serif" font-weight="bold" font-size="66">14</text>
<text x="1174.17" y="1568.8" text-anchor="middle" font-family="Liberation Serif, serif" font-weight="bold" font-size="66">16</text>
<text x="1042.5" y="1568.8" text-anchor="middle" font-family="Liberation Serif, serif" font-weight="bold" font-size="66">18</text>
<text x="910.83" y="1568.8" text-anchor="middle" font-family="Liberation Serif, serif" font-weight="bold" font-size="66">20</text>
<text x="779.17" y="1568.8" text-anchor="middle" font-family="Liberation Serif, serif" font-weight="bold" font-size="66">22</text>
<text x="647.5" y="1568.8" text-anchor="middle" font-family="Liberation Serif, serif" font-weight="bold" font-size="66">24</text>
<text x="515.83" y="1568.8" text-anchor="middle" font-family="Liberation Serif, serif" font-weight="bold" font-size="66">26</text>
<text x="384.17" y="1568.8" text-anchor="middle" font-family="Liberation Serif, serif" font-weight="bold" font-size="66">28</text>
<text x="252.5" y="1568.8" text-anchor="middle" font-family="Liberation Serif, serif" font-weight="bold" font-size="66">30</text>
<text x="221.7" y="1432.29" text-anchor="end" font-family="Liberation Serif, serif" font-weight="bold" font-size="66">200</text>
<text x="221.7" y="1287.2" text-anchor="end" font-family="Liberation Serif, serif" font-weight="bold" font-size="66">400</text>
<text x="221.7" y="1142.12" text-anchor="end" font-family="Liberation Serif, serif" font-weight="bold" font-size="66">600</text>
<text x="221.7" y="997.03" text-anchor="end" font-family="Liberation Serif, serif" font-weight="bold" font-size="66">800</text>
<text x="221.7" y="851.94" text-anchor="end" font-family="Liberation Serif, serif" font-weight="bold" font-size="66">1000</text>
<text x="221.7" y="706.85" text-anchor="end" font-family="Liberation Serif, serif" font-weight="bold" font-size="66">1200</text>
<text x="221.7" y="561.76" text-anchor="end" font-family="Liberation Serif, serif" font-weight="bold" font-size="66">1400</text>
<text x="221.7" y="416.68" text-anchor="end" font-family="Liberation Serif, serif" font-weight="bold" font-size="66">1600</text>
<text x="221.7" y="271.59" text-anchor="end" font-family="Liberation Serif, serif" font-weight="bold" font-size="66">1800</text>
<text x="221.7" y="126.5" text-anchor="end" font-family="Liberation Serif, serif" font-weight="bold" font-size="66">2000</text>
<text x="1054.8" y="1648" font-family="Liberation Serif, serif" font-weight="bold" font-size="80" textLength="465.5" lengthAdjust="spacing">Torque (N·m)</text>
<text transform="translate(78.7 1370) rotate(-90)" x="0" y="0" font-family="Liberation Serif, serif" font-weight="bold" font-size="80" textLength="1220.3" lengthAdjust="spacing">Power output of scroll expander (W)</text>
</svg>
</body></html>
